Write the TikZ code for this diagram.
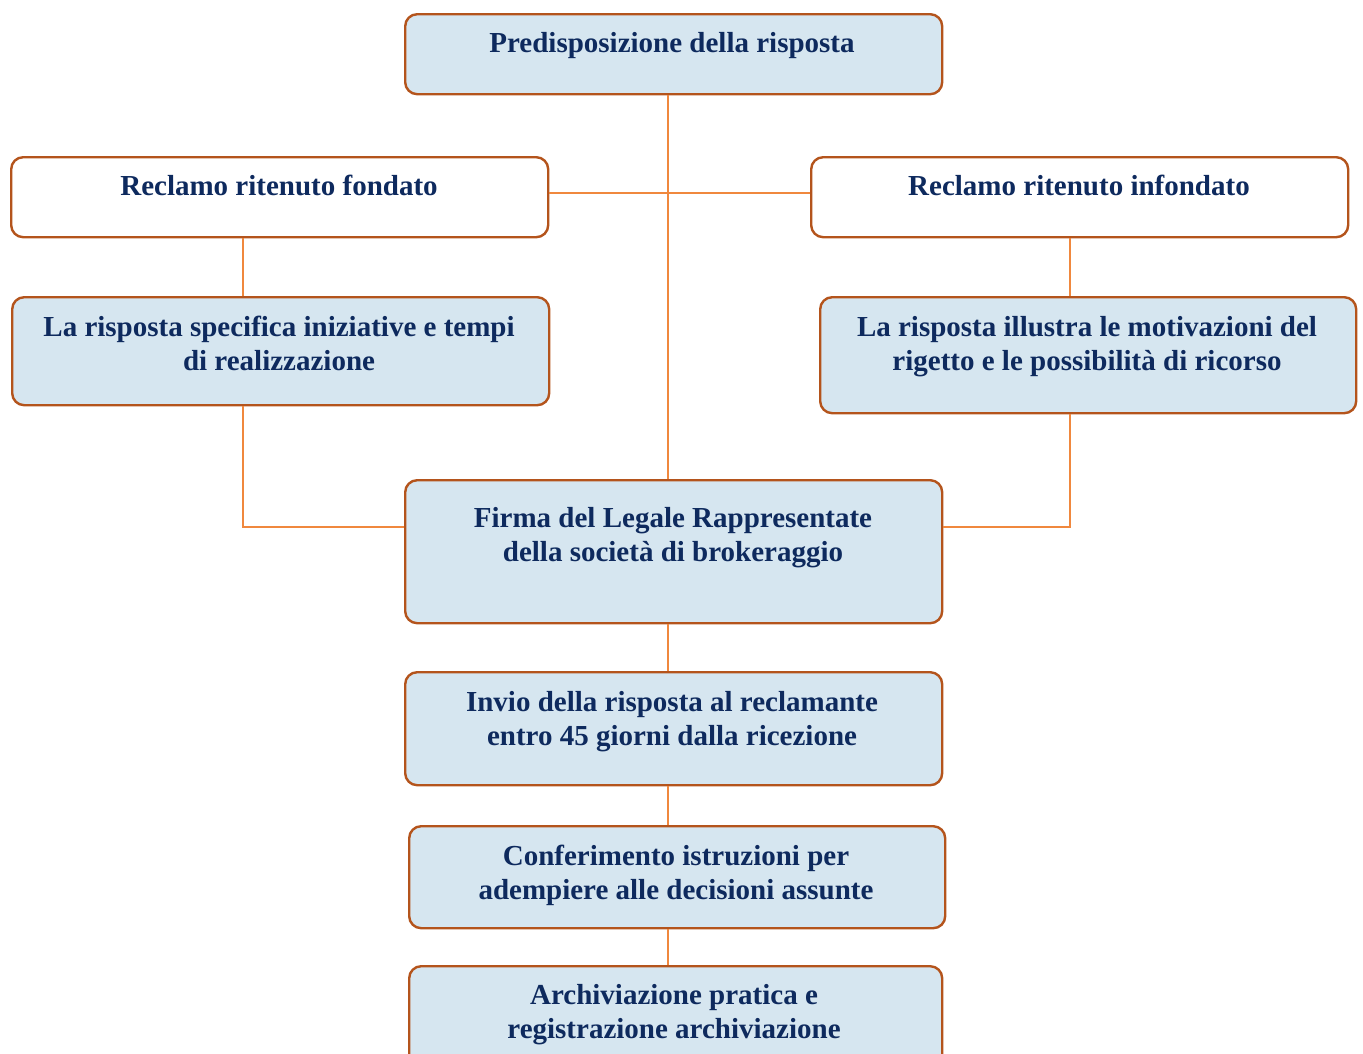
\documentclass[tikz,border=0pt]{standalone}
\usepackage{fontspec}
\setmainfont{Liberation Serif}
\definecolor{edge}{RGB}{180,84,28}
\definecolor{fillb}{RGB}{214,230,240}
\definecolor{ink}{RGB}{14,42,94}
\definecolor{wire}{RGB}{240,136,62}
\begin{document}
\begin{tikzpicture}[x=1pt,y=-1pt,
  box/.style={draw=edge, line width=2.4pt, rounded corners=12pt, anchor=north west, inner sep=0pt, fill=fillb},
  wbox/.style={box, fill=white},
  txt/.style={text=ink, font=\fontsize{29}{34}\selectfont\bfseries, align=center, anchor=north, inner sep=0pt},
  conn/.style={draw=wire, line width=1.2pt}]
\useasboundingbox (0,0) rectangle (1363,1053);
% boxes
\node[box, minimum width=537pt, minimum height=80pt] (top) at (404,13) {};
\node[wbox, minimum width=537pt, minimum height=80pt] (fond) at (10,156) {};
\node[wbox, minimum width=537pt, minimum height=80pt] (infond) at (810,156) {};
\node[box, minimum width=537pt, minimum height=108pt] (spec) at (11,296) {};
\node[box, minimum width=536pt, minimum height=116pt] (illu) at (819,296) {};
\node[box, minimum width=537pt, minimum height=143pt] (firma) at (404,479) {};
\node[box, minimum width=537pt, minimum height=113pt] (invio) at (404,671) {};
\node[box, minimum width=536pt, minimum height=102pt] (conf) at (408,825) {};
\node[box, minimum width=533pt, minimum height=110pt] (arch) at (408,965) {};
% texts
\node[txt] (topt) at (672,32) {Predisposizione della risposta};
\node[txt] (fondt) at (279,175) {Reclamo ritenuto fondato};
\node[txt] (infondt) at (1079,175) {Reclamo ritenuto infondato};
\node[txt] (spect) at (279,316) {La risposta specifica iniziative e tempi\\di realizzazione};
\node[txt] (illut) at (1087,316) {La risposta illustra le motivazioni del\\rigetto e le possibilità di ricorso};
\node[txt] (firmat) at (673,507) {Firma del Legale Rappresentate\\della società di brokeraggio};
\node[txt] (inviot) at (672,691) {Invio della risposta al reclamante\\entro 45 giorni dalla ricezione};
\node[txt] (conft) at (676,845) {Conferimento istruzioni per\\adempiere alle decisioni assunte};
\node[txt] (archt) at (674,984) {Archiviazione pratica e\\registrazione archiviazione};
% connectors
\coordinate (cx) at (668,0);
\coordinate (hy) at (0,193);
\coordinate (jy) at (0,527);
\draw[conn] (top.south -| cx) -- (firma.north -| cx);
\draw[conn] (fond.east |- hy) -- (infond.west |- hy);
\draw[conn] (fond.south -| 243,0) -- (spec.north -| 243,0);
\draw[conn] (infond.south -| 1070,0) -- (illu.north -| 1070,0);
\draw[conn] (spec.south -| 243,0) |- (firma.west |- jy);
\draw[conn] (illu.south -| 1070,0) |- (firma.east |- jy);
\draw[conn] (firma.south -| cx) -- (invio.north -| cx);
\draw[conn] (invio.south -| cx) -- (conf.north -| cx);
\draw[conn] (conf.south -| cx) -- (arch.north -| cx);
\end{tikzpicture}
\end{document}
